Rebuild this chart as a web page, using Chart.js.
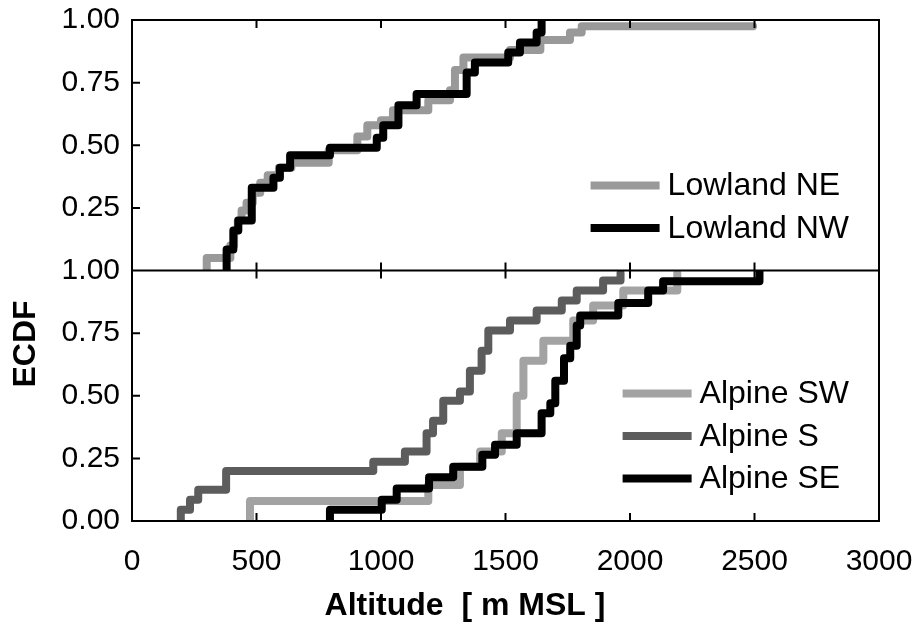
<!DOCTYPE html>
<html lang="en">

<head>
  <meta charset="UTF-8" />
  <title>ECDF of altitude</title>
  <script src="https://cdn.jsdelivr.net/npm/chart.js@4.4.1/dist/chart.umd.min.js"></script>
  <style>
    html, body { margin: 0; padding: 0; background: #fff; }
    #wrap { width: 912px; height: 626px; }
  </style>
</head>

<body>
  <div id="wrap">
    <canvas id="ecdf" width="912" height="626"></canvas>
  </div>

  <script>
    // step points: altitude (m MSL) and ECDF value after the step
    const neAlt = [300, 300, 395, 410, 425, 440, 460, 485, 515, 545, 590, 640, 790, 905, 945, 1000, 1048, 1190, 1277, 1297, 1331, 1518, 1640, 1759, 1806, 2494];
    const neVal = [0, 0.05, 0.10, 0.16, 0.20, 0.24, 0.27, 0.31, 0.35, 0.38, 0.41, 0.43, 0.48, 0.535, 0.58, 0.60, 0.64, 0.68, 0.72, 0.80, 0.85, 0.88, 0.92, 0.95, 0.975, 0.975];

    const nwAlt = [380, 380, 407, 427, 481, 568, 594, 635, 795, 983, 1009, 1070, 1143, 1344, 1377, 1511, 1558, 1625, 1645];
    const nwVal = [0, 0.084, 0.16, 0.20, 0.33, 0.37, 0.41, 0.46, 0.49, 0.53, 0.58, 0.66, 0.705, 0.79, 0.83, 0.87, 0.91, 0.95, 1.0];

    const swAlt = [474, 474, 1190, 1317, 1398, 1485, 1545, 1572, 1652, 1772, 1852, 1973, 2190];
    const swVal = [0, 0.08, 0.144, 0.217, 0.277, 0.35, 0.50, 0.64, 0.72, 0.80, 0.86, 0.92, 0.99];

    const sAlt = [196, 196, 233, 266, 378, 969, 1096, 1183, 1209, 1250, 1317, 1357, 1404, 1431, 1518, 1625, 1726, 1786, 1892, 1962];
    const sVal = [0, 0.045, 0.085, 0.125, 0.2, 0.237, 0.277, 0.35, 0.40, 0.48, 0.517, 0.6, 0.68, 0.76, 0.80, 0.84, 0.88, 0.92, 0.96, 0.99];

    const seAlt = [795, 795, 1003, 1063, 1193, 1290, 1407, 1458, 1545, 1645, 1680, 1700, 1735, 1760, 1786, 1800, 1953, 2073, 2133, 2520];
    const seVal = [0, 0.045, 0.085, 0.13, 0.175, 0.217, 0.264, 0.304, 0.35, 0.43, 0.47, 0.56, 0.65, 0.70, 0.78, 0.82, 0.87, 0.92, 0.957, 1.0];

    const yTicks = [0.25, 0.5, 0.75];
    const FONT = "'Liberation Sans', Arial, Helvetica, sans-serif";

    function pts(alt, val) {
      return alt.map((a, i) => ({ x: a, y: val[i] }));
    }

    function series(label, alt, val, color, axis, order) {
      return {
        label: label,
        data: pts(alt, val),
        yAxisID: axis,
        order: order,
        stepped: true,
        borderColor: color,
        backgroundColor: color,
        borderWidth: 8,
        borderCapStyle: 'round',
        borderJoinStyle: 'round',
        pointRadius: 0,
        fill: false
      };
    }

    // frame, inward ticks, per-panel legends and the axis titles
    const decor = {
      id: 'decor',
      afterDatasetsDraw(chart) {
        const { ctx, chartArea: a, scales } = chart;
        const x = scales.x;
        const mid = scales.yBottom.getPixelForValue(1);
        ctx.save();
        ctx.strokeStyle = '#000';
        ctx.lineWidth = 2;
        ctx.strokeRect(a.left, a.top, a.right - a.left, a.bottom - a.top);
        ctx.beginPath();
        ctx.moveTo(a.left, mid);
        ctx.lineTo(a.right, mid);
        x.ticks.forEach(t => {
          if (t.value <= x.min || t.value >= x.max) return;
          const px = x.getPixelForValue(t.value);
          ctx.moveTo(px, a.top); ctx.lineTo(px, a.top + 8);
          ctx.moveTo(px, mid - 8); ctx.lineTo(px, mid + 8);
          ctx.moveTo(px, a.bottom - 8); ctx.lineTo(px, a.bottom);
        });
        ['yTop', 'yBottom'].forEach(id => {
          yTicks.forEach(v => {
            const py = scales[id].getPixelForValue(v);
            ctx.moveTo(a.left, py); ctx.lineTo(a.left + 8, py);
          });
        });
        ctx.stroke();

        // legends, one for each panel
        ctx.font = '32px ' + FONT;
        ctx.textBaseline = 'middle';
        ctx.textAlign = 'left';
        ['yTop', 'yBottom'].forEach(id => {
          const sets = chart.data.datasets.filter(d => d.yAxisID === id);
          const w = Math.max(...sets.map(d => ctx.measureText(d.label).width));
          const tx = a.right - 30 - w;
          const bottom = scales[id].bottom;
          sets.forEach((d, i) => {
            const y = bottom - 42.5 * (sets.length - i);
            ctx.strokeStyle = d.borderColor;
            ctx.lineWidth = 8;
            ctx.lineCap = 'butt';
            ctx.beginPath();
            ctx.moveTo(tx - 77, y);
            ctx.lineTo(tx - 8, y);
            ctx.stroke();
            ctx.fillStyle = '#000';
            ctx.fillText(d.label, tx, y + 1);
          });
        });

        // x title sits left of the plot centre in the original
        ctx.font = 'bold 32px ' + FONT;
        ctx.textAlign = 'center';
        ctx.fillStyle = '#000';
        ctx.fillText('Altitude  [ m MSL ]', 465, 606);

        ctx.translate(26, 344);
        ctx.rotate(-Math.PI / 2);
        ctx.fillText('ECDF', 0, 0);
        ctx.restore();
      }
    };

    const tickFont = { family: FONT, size: 30 };

    new Chart(document.getElementById('ecdf'), {
      type: 'line',
      data: {
        datasets: [
          series('Lowland NE', neAlt, neVal, '#999999', 'yTop', 1),
          series('Lowland NW', nwAlt, nwVal, '#000000', 'yTop', 0),
          series('Alpine SW', swAlt, swVal, '#a3a3a3', 'yBottom', 2),
          series('Alpine S', sAlt, sVal, '#5c5c5c', 'yBottom', 1),
          series('Alpine SE', seAlt, seVal, '#000000', 'yBottom', 0)
        ]
      },
      options: {
        responsive: false,
        animation: false,
        layout: { padding: { left: 0, right: 33, top: 20, bottom: 0 } },
        plugins: { legend: { display: false }, tooltip: { enabled: false } },
        scales: {
          x: {
            type: 'linear',
            min: 0,
            max: 3000,
            ticks: {
              stepSize: 500, font: tickFont, color: '#000', padding: 15, maxRotation: 0, autoSkip: false,
              callback: v => String(v)
            },
            grid: { display: false },
            border: { display: false },
            afterFit: s => { s.height = 105; s.paddingLeft = 0; s.paddingRight = 0; }
          },
          yTop: {
            type: 'linear',
            position: 'left',
            stack: 'ecdf',
            stackWeight: 1,
            weight: 2,
            min: 0,
            max: 1,
            ticks: {
              stepSize: 0.25, autoSkip: false, font: tickFont, color: '#000', padding: 12,
              callback: v => (v === 0 ? '' : v.toFixed(2))
            },
            grid: { display: false, drawTicks: false },
            border: { display: false },
            afterFit: s => { s.width = 132; s.paddingTop = 0; s.paddingBottom = 0; }
          },
          yBottom: {
            type: 'linear',
            position: 'left',
            stack: 'ecdf',
            stackWeight: 1,
            weight: 1,
            min: 0,
            max: 1,
            ticks: {
              stepSize: 0.25, autoSkip: false, font: tickFont, color: '#000', padding: 12,
              callback: v => v.toFixed(2)
            },
            grid: { display: false, drawTicks: false },
            border: { display: false },
            afterFit: s => { s.width = 132; s.paddingTop = 0; s.paddingBottom = 0; }
          }
        }
      },
      plugins: [decor]
    });
  </script>
</body>

</html>
